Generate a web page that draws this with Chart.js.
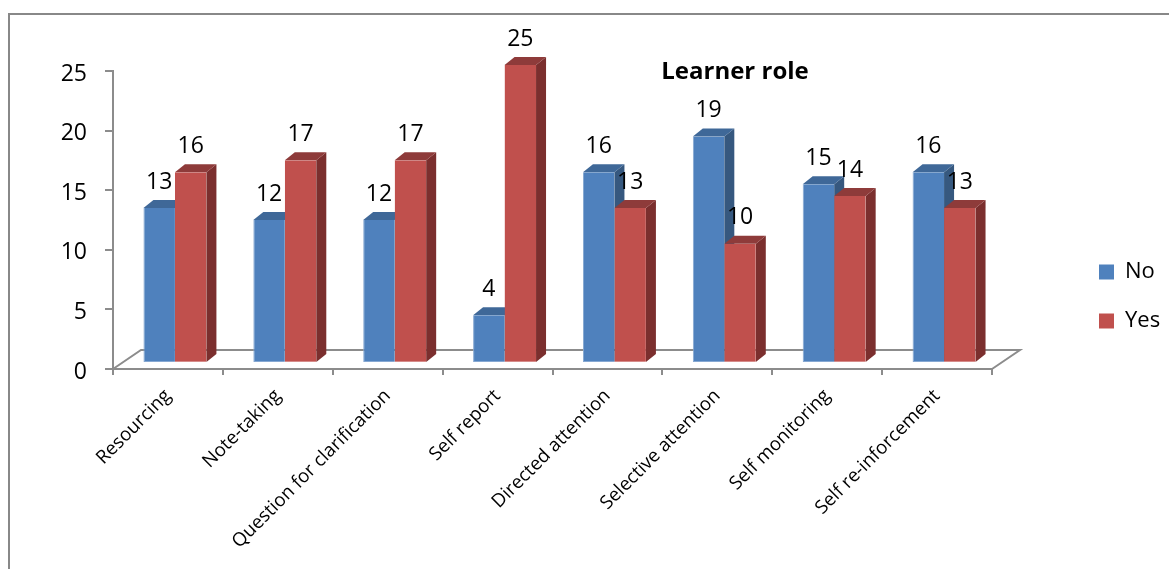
<!DOCTYPE html>
<html>
<head>
<meta charset="utf-8">
<script src="https://cdn.jsdelivr.net/npm/chart.js@4"></script>
<style>
html,body{margin:0;padding:0;background:#fff;overflow:hidden}
#wrap{position:relative;width:1169px;height:569px;overflow:hidden}
#frame{position:absolute;left:8px;top:13px;width:1300px;height:700px;border:2px solid #888;box-sizing:border-box}
canvas{position:absolute;left:0;top:0}
</style>
</head>
<body>
<div id="wrap"><div id="frame"></div><canvas id="c" width="1169" height="569"></canvas></div>
<script>
const categories = ["Resourcing","Note-taking","Question for clarification","Self report","Directed attention","Selective attention","Self monitoring","Self re-inforcement"];
const noValues = [13,12,12,4,16,19,15,16];
const yesValues = [16,17,17,25,13,10,14,13];
const titleText = "Learner role";
const FONT = "Open Sans";
const shift = {x:7, y:-6};
const depth = {x:10, y:-8};
const floorDepth = {x:28, y:-19};
const shades = [{top:"#3f6898", side:"#36587f"},{top:"#8e3b3a", side:"#7b2f2e"}];

const threeD = {
  id:"threeD",
  beforeLayout(chart){
    const lg = chart.legend;
    if(lg && !lg._fitWrapped){
      const f = lg.fit;
      lg.fit = function(){ f.call(this); this.width = 177; };
      lg._fitWrapped = true;
    }
  },
  afterLayout(chart){
    const l = chart.legend;
    l.left = 1072; l.right = 1169; l.top = 234; l.bottom = 400;
    const t = chart.titleBlock;
    t.left = 735-300; t.right = 735+300; t.top = 58; t.bottom = 88;
    const ys = chart.scales.y;
    ys.getLabelItems(chart.chartArea).forEach(item => {
      if(item.options && item.options.translation) item.options.translation[1] += 3;
    });
  },
  beforeDatasetsDraw(chart){
    const ctx = chart.ctx, xs = chart.scales.x, ys = chart.scales.y;
    const base = ys.getPixelForValue(0);
    ctx.save();
    ctx.strokeStyle = "#8c8c8c"; ctx.lineWidth = 2;
    ctx.beginPath();
    ctx.moveTo(xs.left, base);
    ctx.lineTo(xs.left+floorDepth.x, base+floorDepth.y);
    ctx.lineTo(xs.right+floorDepth.x, base+floorDepth.y);
    ctx.lineTo(xs.right, base);
    ctx.stroke();
    ctx.restore();
    ctx.save();
    ctx.translate(shift.x, shift.y);
    categories.forEach((_, i) => {
      [0,1].forEach(d => {
        const bar = chart.getDatasetMeta(d).data[i];
        const r = bar.x + bar.width/2, l = bar.x - bar.width/2, t = bar.y, b = bar.base;
        ctx.fillStyle = shades[d].side;
        ctx.beginPath();
        ctx.moveTo(r,t); ctx.lineTo(r+depth.x,t+depth.y); ctx.lineTo(r+depth.x,b+depth.y); ctx.lineTo(r,b);
        ctx.closePath(); ctx.fill();
        ctx.fillStyle = shades[d].top;
        ctx.beginPath();
        ctx.moveTo(l,t); ctx.lineTo(l+depth.x,t+depth.y); ctx.lineTo(r+depth.x,t+depth.y); ctx.lineTo(r,t);
        ctx.closePath(); ctx.fill();
      });
    });
  },
  afterDatasetsDraw(chart){
    const ctx = chart.ctx;
    ctx.fillStyle = "#000";
    ctx.font = "23px " + FONT;
    ctx.textAlign = "center";
    ctx.textBaseline = "middle";
    [0,1].forEach(d => {
      chart.getDatasetMeta(d).data.forEach((bar,i) => {
        ctx.fillText(String(chart.data.datasets[d].data[i]), bar.x, bar.y - 26);
      });
    });
    ctx.restore();
  }
};

new Chart(document.getElementById("c"), {
  type:"bar",
  data:{
    labels:categories,
    datasets:[
      {label:"No", data:noValues, backgroundColor:"#4f81bd", borderColor:"#86a8d2", borderWidth:{left:1,bottom:1}, borderSkipped:false, clip:false},
      {label:"Yes", data:yesValues, backgroundColor:"#c0504d", borderColor:"#d58c8a", borderWidth:{bottom:1}, borderSkipped:false, clip:false}
    ]
  },
  options:{
    responsive:false,
    animation:false,
    events:[],
    layout:{padding:{left:0,right:0,top:42.2,bottom:0}},
    datasets:{bar:{categoryPercentage:0.573, barPercentage:1}},
    scales:{
      x:{
        afterFit(s){ s.height = 200; },
        grid:{drawOnChartArea:false, drawTicks:true, tickLength:6, color:"#8c8c8c", lineWidth:2, offset:true},
        border:{color:"#8c8c8c", width:2},
        ticks:{color:"#000", font:{family:FONT,size:18.7}, maxRotation:45, minRotation:45, padding:10, autoSkip:false}
      },
      y:{
        min:0,max:25,
        afterFit(s){ s.width = 113; },
        grid:{drawOnChartArea:false, drawTicks:true, tickLength:8, color:"#8c8c8c", lineWidth:2},
        border:{color:"#8c8c8c", width:2},
        ticks:{color:"#000", font:{family:FONT,size:23}, stepSize:5, padding:18}
      }
    },
    plugins:{
      tooltip:{enabled:false},
      title:{display:true, text:titleText, color:"#000", font:{family:FONT,size:24,weight:"bold"}, padding:0},
      legend:{display:true, position:"right", align:"start",
        labels:{color:"#000", font:{family:FONT,size:22}, boxWidth:15, boxHeight:15, padding:27,
          generateLabels(c){ return Chart.defaults.plugins.legend.labels.generateLabels(c).map(i => Object.assign(i,{lineWidth:0})); }
        }
      }
    }
  },
  plugins:[threeD]
});
</script>
</body>
</html>
